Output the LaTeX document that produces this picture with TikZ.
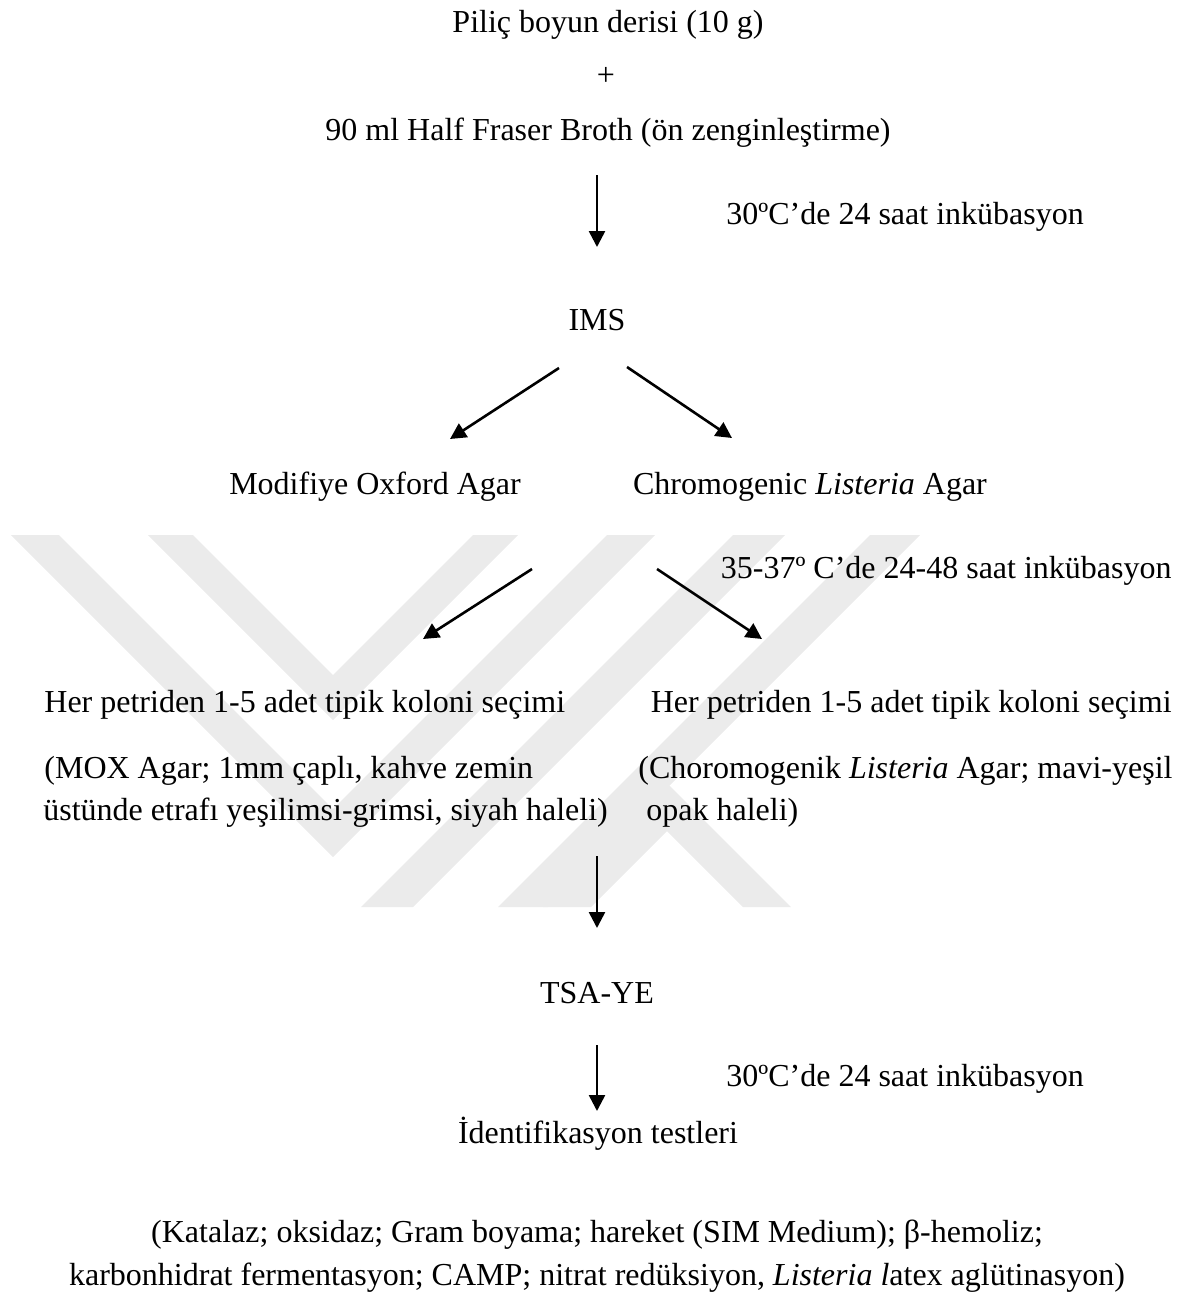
\documentclass[tikz,border=0pt]{standalone}
\usepackage{fontspec}
\setmainfont{Liberation Serif}
\usetikzlibrary{arrows.meta}
\begin{document}
\begin{tikzpicture}[x=0.5pt,y=-0.5pt,
  lbl/.style={anchor=base, inner sep=0pt, font=\fontsize{16}{19}\selectfont},
  arr/.style={line width=1.3pt, -{Triangle[length=8pt,width=8pt]}},
  wm/.style={fill=black!8, draw=none}]
\useasboundingbox (0,0) rectangle (1188,1302);
% faint watermark
\begin{scope}
\clip (0,535) rectangle (1188,907);
% nested chevrons centred at x=333
\fill[wm] (148,535) -- (193,535) -- (333,675) -- (473,535) -- (518,535) -- (333,720) -- cycle;
\fill[wm] (11,535) -- (59,535) -- (333,809) -- (607,535) -- (655,535) -- (333,857) -- cycle;
% bands on the right
\fill[wm] (733,535) -- (785,535) -- (413,907) -- (361,907) -- cycle;
\fill[wm] (870,535) -- (920,535) -- (548,907) -- (498,907) -- cycle;
\fill[wm] (667,783) -- (791,907) -- (743,907) -- (667,831) -- (591,907) -- (543,907) -- cycle;
\end{scope}
% texts
\node[lbl] (pilic) at (608,32) {Piliç boyun derisi (10 g)};
\node[lbl] (plus) at (606,85) {+};
\node[lbl] (broth) at (608,140) {90 ml Half Fraser Broth (ön zenginleştirme)};
\node[lbl, anchor=base west] (inc1) at (726,224) {30ºC’de 24 saat inkübasyon};
\node[lbl] (ims) at (597,330) {IMS};
\node[lbl] (mox) at (375,494) {Modifiye Oxford Agar};
\node[lbl] (chrom) at (810,494) {Chromogenic \textit{Listeria} Agar};
\node[lbl, anchor=base east] (inc2) at (1172,578) {35-37º C’de 24-48 saat inkübasyon};
\node[lbl, anchor=base west] (selL) at (44,712) {Her petriden 1-5 adet tipik koloni seçimi};
\node[lbl, anchor=base east] (selR) at (1172,712) {Her petriden 1-5 adet tipik koloni seçimi};
\node[lbl, anchor=base west] (moxA) at (44,778) {(MOX Agar; 1mm çaplı, kahve zemin};
\node[lbl, anchor=base west] (moxB) at (43,820) {üstünde etrafı yeşilimsi-grimsi, siyah haleli)};
\node[lbl, anchor=base west] (chA) at (638,778) {(Choromogenik \textit{Listeria} Agar; mavi-yeşil};
\node[lbl, anchor=base west] (chB) at (646,820) {opak haleli)};
\node[lbl] (tsa) at (597,1003) {TSA-YE};
\node[lbl, anchor=base west] (inc3) at (726,1086) {30ºC’de 24 saat inkübasyon};
\node[lbl] (ident) at (598,1143) {İdentifikasyon testleri};
\node[lbl] (testsA) at (597,1242) {(Katalaz; oksidaz; Gram boyama; hareket (SIM Medium); β-hemoliz;};
\node[lbl] (testsB) at (597,1285) {karbonhidrat fermentasyon; CAMP; nitrat redüksiyon, \textit{Listeria l}atex aglütinasyon)};
% arrow end points
\coordinate (a1s) at (597,175); \coordinate (a1e) at (597,247);
\coordinate (a2s) at (559,368); \coordinate (a2e) at (450,439);
\coordinate (a3s) at (627,367); \coordinate (a3e) at (732,438);
\coordinate (a4s) at (532,569); \coordinate (a4e) at (423,639);
\coordinate (a5s) at (657,569); \coordinate (a5e) at (762,639);
\coordinate (a6s) at (597,856); \coordinate (a6e) at (597,928);
\coordinate (a7s) at (597,1045); \coordinate (a7e) at (597,1111);
\draw[arr] (a1s) -- (a1e);
\draw[arr] (a2s) -- (a2e);
\draw[arr] (a3s) -- (a3e);
\draw[arr] (a4s) -- (a4e);
\draw[arr] (a5s) -- (a5e);
\draw[arr] (a6s) -- (a6e);
\draw[arr] (a7s) -- (a7e);
\end{tikzpicture}
\end{document}
